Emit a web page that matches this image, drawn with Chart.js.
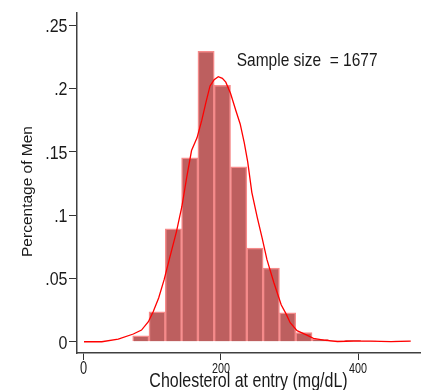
<!DOCTYPE html>
<html>
<head>
<meta charset="utf-8">
<script src="https://cdn.jsdelivr.net/npm/chart.js@4/dist/chart.umd.min.js"></script>
<style>
html,body{margin:0;padding:0;background:#fff;}
#wrap{width:429px;height:390px;position:relative;}
</style>
</head>
<body>
<div id="wrap"><canvas id="c" width="429" height="390"></canvas></div>
<script>
// Histogram bins (centers, mg/dL) and heights (fraction of men)
const binCenters = [83, 106.8, 130.6, 154.4, 178.2, 202, 225.8, 249.6, 273.4, 297.2, 321, 344.8, 368.6, 392.4, 416.2, 440, 463.8];
const binHeights = [0.0047, 0.0236, 0.0891, 0.1452, 0.2294, 0.2024, 0.1381, 0.0739, 0.0582, 0.0228, 0.0073, 0.0018, 0.0006, 0.0012, 0.0006, 0, 0.0006];
// Smoothed density curve
const curveX = [0, 26, 50, 72, 84, 94, 101, 109, 117, 125, 135, 143, 150, 157, 165, 172, 178, 184, 190, 196, 202, 207, 214, 222, 228, 234, 239, 245, 253, 260, 267, 277, 288, 295, 301, 311, 323, 335, 350, 370, 394, 418, 448, 477];
const curveY = [0, 0, 0.0021, 0.0061, 0.0092, 0.0158, 0.0237, 0.0345, 0.049, 0.066, 0.087, 0.107, 0.130, 0.151, 0.161, 0.175, 0.189, 0.202, 0.207, 0.2093, 0.208, 0.205, 0.196, 0.182, 0.172, 0.157, 0.142, 0.118, 0.098, 0.082, 0.065, 0.047, 0.029, 0.022, 0.015, 0.0087, 0.0058, 0.0027, 0.0013, 0.0002, 0.0004, 0.0005, 0.0001, 0.0005];
// Axis ticks
const xTickValues = [0, 200, 400];
const xTickLabels = ['0', '200', '400'];
const yTickValues = [0, 0.05, 0.1, 0.15, 0.2, 0.25];
const yTickLabels = ['0', '.05', '.1', '.15', '.2', '.25'];
const xTitle = 'Cholesterol at entry (mg/dL)';
const yTitle = 'Percentage of Men';
const note = 'Sample size  = 1677';

const FONT = '"Liberation Sans", Arial, sans-serif';
function drawText(ctx, txt, x, y, size, sx, sy, align, baseline, rot) {
  ctx.save();
  ctx.translate(x, y);
  if (rot) ctx.rotate(rot);
  ctx.scale(sx, sy);
  ctx.font = size + 'px ' + FONT;
  ctx.fillStyle = '#1a1a1a';
  ctx.textAlign = align;
  ctx.textBaseline = baseline;
  ctx.fillText(txt, 0, 0);
  ctx.restore();
}

const textPlugin = {
  id: 'texts',
  afterDraw(chart) {
    const ctx = chart.ctx;
    const xs = chart.scales.x, ys = chart.scales.y;
    yTickValues.forEach((v, i) => {
      const py = ys.getPixelForValue(v);
      drawText(ctx, yTickLabels[i], 67.5, py + 6.8, 16, 1.0, 1.2, 'right', 'alphabetic');
    });
    xTickValues.forEach((v, i) => {
      const px = xs.getPixelForValue(v);
      if (v === 0) drawText(ctx, xTickLabels[i], px - 0.5, 374, 16, 0.8, 1.2, 'center', 'alphabetic');
      else drawText(ctx, xTickLabels[i], px, 373.3, 12, 0.9, 1.25, 'center', 'alphabetic');
    });
    drawText(ctx, xTitle, 248.5, 386.7, 16, 1.0, 1.28, 'center', 'alphabetic');
    drawText(ctx, yTitle, 31.5, 191.5, 15.5, 1.0, 1.0, 'center', 'alphabetic', -Math.PI / 2);
    drawText(ctx, note, 236.7, 66, 15.5, 1.0, 1.15, 'left', 'alphabetic');
  }
};

new Chart(document.getElementById('c'), {
  data: {
    datasets: [
      {
        type: 'line',
        data: curveX.map((x, i) => ({x: x, y: curveY[i]})),
        borderColor: '#ff0000',
        borderWidth: 1.3,
        pointRadius: 0,
        tension: 0,
        fill: false,
        order: 0
      },
      {
        type: 'bar',
        data: binCenters.map((x, i) => ({x: x, y: binHeights[i]})),
        backgroundColor: '#bd5f5f',
        borderColor: '#f58a8a',
        borderWidth: 1.5,
        barPercentage: 1,
        categoryPercentage: 1,
        order: 1
      }
    ]
  },
  options: {
    responsive: false,
    animation: false,
    layout: {padding: {left: 0, right: 9, top: 13, bottom: 0}},
    plugins: {legend: {display: false}, tooltip: {enabled: false}},
    scales: {
      x: {
        type: 'linear',
        offset: false,
        min: -10.2,
        max: 490.5,
        afterBuildTicks: s => { s.ticks = xTickValues.map(v => ({value: v})); },
        afterFit: s => { s.height = 37; },
        ticks: {display: false},
        grid: {display: true, offset: false, drawOnChartArea: false, drawTicks: true, tickLength: 7, color: '#333', lineWidth: 1},
        border: {display: true, color: '#404040', width: 1.5}
      },
      y: {
        type: 'linear',
        min: -0.0089,
        max: 0.2596,
        afterBuildTicks: s => { s.ticks = yTickValues.map(v => ({value: v})); },
        afterFit: s => { s.width = 77; },
        ticks: {display: false},
        grid: {display: true, drawOnChartArea: false, drawTicks: true, tickLength: 8, color: '#333', lineWidth: 1},
        border: {display: true, color: '#404040', width: 1.5}
      }
    }
  },
  plugins: [textPlugin]
});
</script>
</body>
</html>
